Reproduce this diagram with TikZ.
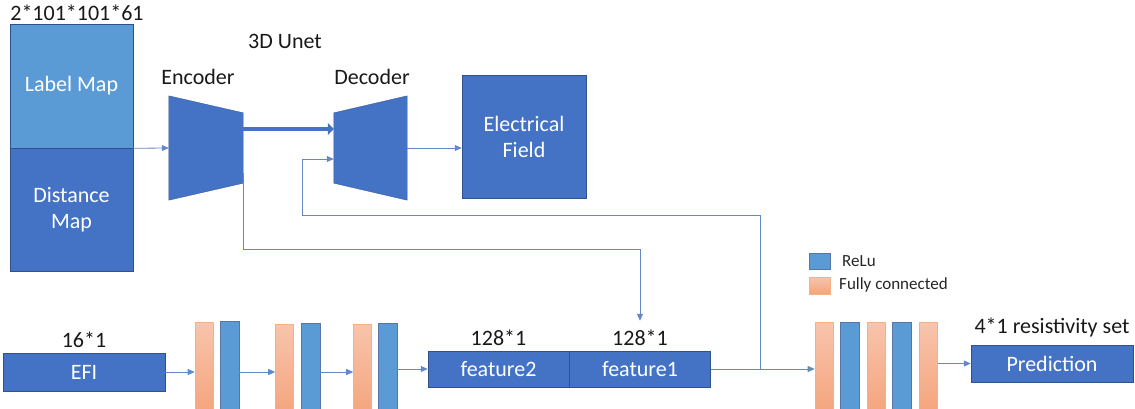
\documentclass[tikz,border=0pt]{standalone}
\usepackage{fontspec}
\setmainfont{Carlito}
\usetikzlibrary{arrows.meta,positioning}

\definecolor{boxblue}{RGB}{68,114,196}
\definecolor{barblue}{RGB}{91,155,213}
\definecolor{edgeblue}{RGB}{47,82,143}
\definecolor{fctop}{RGB}{248,196,172}
\definecolor{fcbot}{RGB}{244,164,124}
\definecolor{fcedge}{RGB}{244,177,131}
\definecolor{wire}{RGB}{100,135,200}

\begin{document}
\begin{tikzpicture}[x=1pt, y=-1pt,
font=\fontsize{22}{26}\selectfont,
box/.style={draw=edgeblue, line width=0.5pt, fill=boxblue, text=white, align=center, inner sep=0pt},
dimtext/.style={inner sep=0pt, text=black!90},
relu/.style={draw=edgeblue!80, line width=0.6pt, fill=barblue, minimum width=19pt, minimum height=92pt, anchor=north, inner sep=0pt},
fc/.style={draw=fcedge, line width=0.6pt, top color=fctop, bottom color=fcbot, minimum width=18pt, minimum height=92pt, anchor=north, inner sep=0pt},
arrow/.style={-{Triangle[length=7pt,width=6pt]}, draw=wire, line width=0.8pt},
bigarrow/.style={-{Triangle[length=6pt,width=12pt]}, draw=boxblue, line width=4.5pt},
legend/.style={font=\fontsize{17}{20}\selectfont, inner sep=0pt, anchor=west, text=black!85}
]
\useasboundingbox (0,0) rectangle (1135,408);

% input volumes
\node[box, fill=barblue, minimum width=123pt, minimum height=124pt] (label) at (71.5,86) {Label Map};
\node[box, minimum width=123pt, minimum height=123pt, below=0pt of label] (dist) {Distance\\Map};
\node[dimtext] (dims) at (77,13) {2*101*101*61};

% 3D Unet
\node[minimum width=74pt, minimum height=104pt, inner sep=0pt] (enc) at (206,148) {};
\node[minimum width=73pt, minimum height=104pt, inner sep=0pt] (dec) at (370.5,148) {};
\fill[boxblue, draw=edgeblue, line width=0.3pt] (enc.north west) -- ([yshift=-17pt]enc.north east)
  -- ([yshift=17pt]enc.south east) -- (enc.south west) -- cycle;
\fill[boxblue, draw=edgeblue, line width=0.3pt] ([yshift=-17pt]dec.north west) -- (dec.north east)
  -- (dec.south east) -- ([yshift=17pt]dec.south west) -- cycle;
\node[dimtext] (enctext) at (198,77) {Encoder};
\node[dimtext] (dectext) at (372,77) {Decoder};
\node[dimtext] (unet) at (285,41) {3D Unet};
\node[box, minimum width=124pt, minimum height=123pt] (field) at (524,136.5) {Electrical\\Field};

% EFI branch
\node[box, minimum width=162pt, minimum height=38pt] (efi) at (84,372) {EFI};
\node[dimtext, above=5pt of efi] (efidim) {16*1};
\node[fc] (f1) at (204,322) {};
\node[relu] (r1) at (229.5,321) {};
\node[fc] (f2) at (284.5,324) {};
\node[relu] (r2) at (310.5,323) {};
\node[fc] (f3) at (362.5,324) {};
\node[relu] (r3) at (387.5,323) {};

% concatenated features
\node[box, minimum width=141pt, minimum height=36pt] (feat2) at (498.5,369) {feature2};
\node[box, minimum width=141pt, minimum height=36pt, right=0pt of feat2] (feat1) {feature1};
\node[dimtext, above=5pt of feat2] (f2dim) {128*1};
\node[dimtext, above=5pt of feat1] (f1dim) {128*1};

% regression head
\node[fc] (g1) at (824,322) {};
\node[relu] (s1) at (849.5,322) {};
\node[fc] (g2) at (876,322) {};
\node[relu] (s2) at (901.5,322) {};
\node[fc] (g3) at (928.5,322) {};
\node[box, minimum width=162pt, minimum height=37pt] (pred) at (1052,363.5) {Prediction};
\node[dimtext, above=8pt of pred] (preddim) {4*1 resistivity set};

% legend
\node[draw=edgeblue!80, line width=0.6pt, fill=barblue, minimum width=21pt, minimum height=16pt, inner sep=0pt] (keyrelu) at (819.5,261) {};
\node[draw=fcedge, line width=0.6pt, top color=fctop, bottom color=fcbot, minimum width=21pt, minimum height=17pt, inner sep=0pt] (keyfc) at (819.5,285.5) {};
\node[legend] (relutext) at (842,261) {ReLu};
\node[legend] (fctext) at (839,285) {Fully connected};

% connectors
\coordinate (tap) at (760,369);
\coordinate (loop) at (302,215);
\draw[arrow] (label.south east) -- (enc.west);
\draw[bigarrow] ([yshift=19pt]enc.east) -- ([yshift=19pt]dec.west);
\draw[arrow] (dec.east) -- (field.west |- dec.east);
\draw[arrow] ([yshift=-25pt]enc.east) -- ++(0,76) -| ([yshift=30pt]feat1.north);
\draw[arrow] (tap) |- (loop) |- ([yshift=-11pt]dec.west);
\draw[arrow] (efi.east) -- (f1.west |- efi.east);
\draw[arrow] (r1.east |- efi.east) -- (f2.west |- efi.east);
\draw[arrow] (r2.east |- efi.east) -- (f3.west |- efi.east);
\draw[arrow] (r3.east |- feat2.west) -- (feat2.west);
\draw[arrow] (feat1.east) -- (g1.west |- feat1.east);
\draw[arrow] (g3.east |- pred.west) -- (pred.west);
\end{tikzpicture}
\end{document}
